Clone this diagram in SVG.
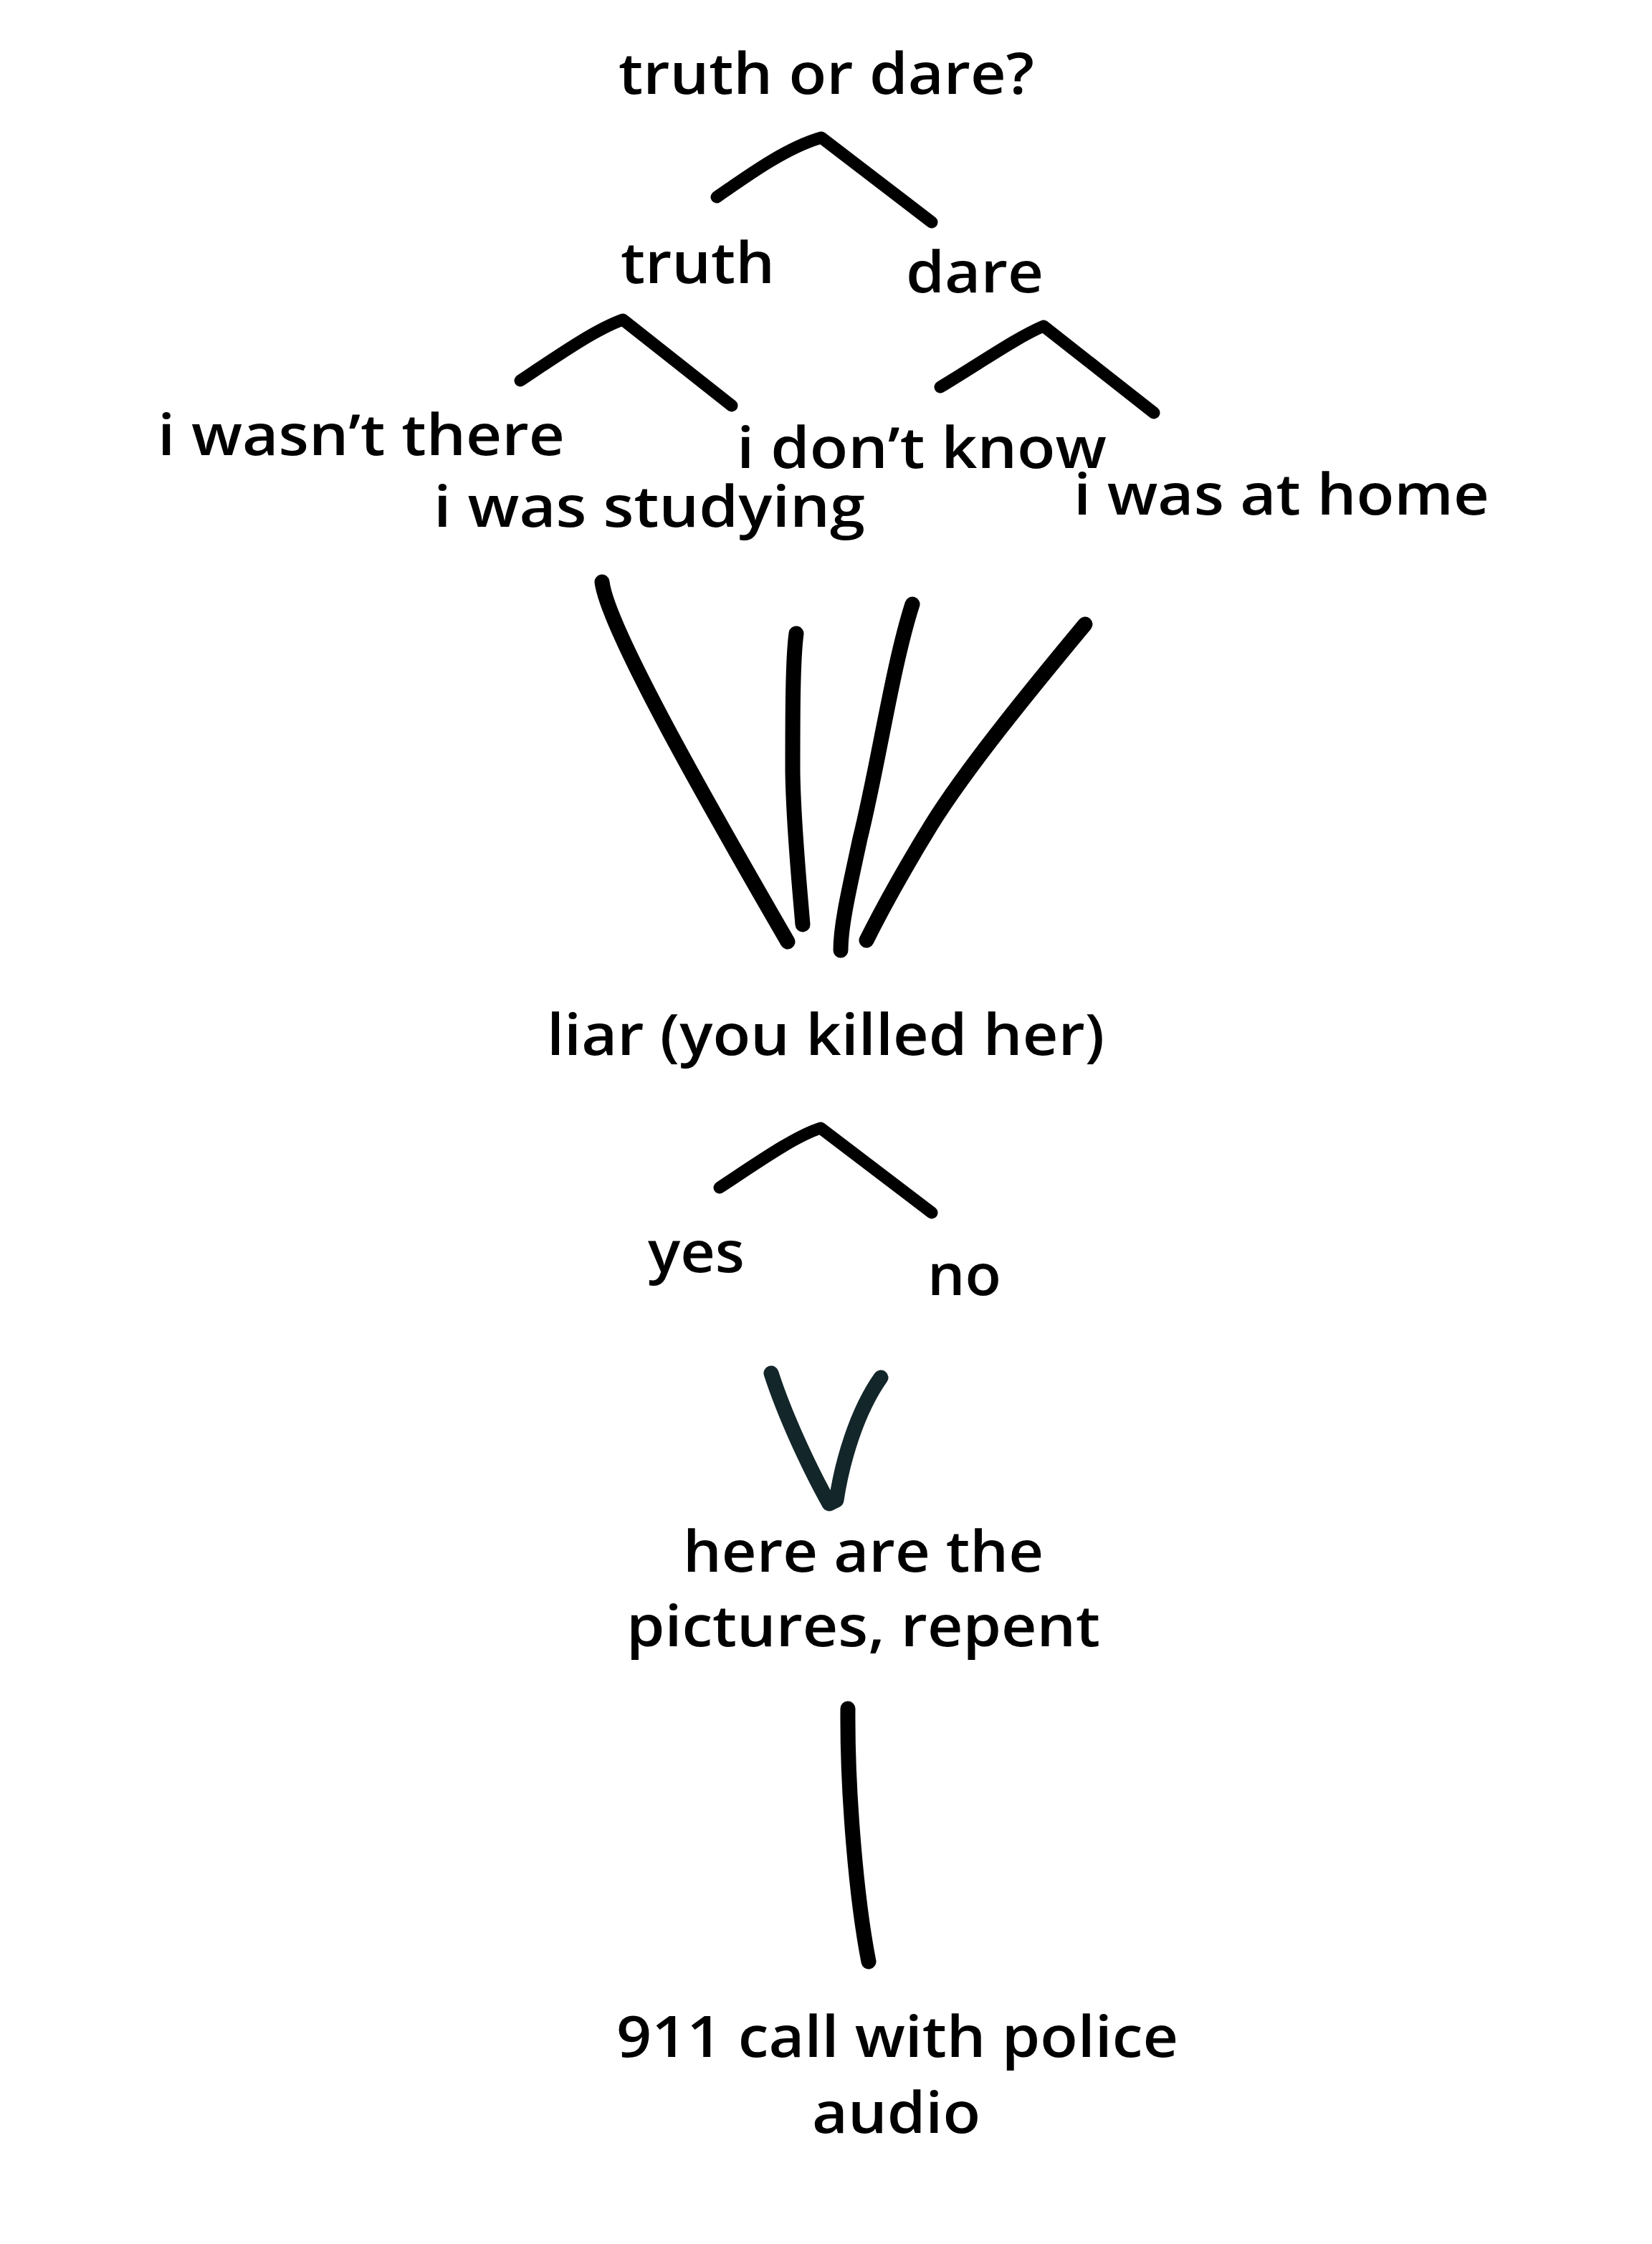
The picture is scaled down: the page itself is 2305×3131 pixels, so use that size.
<svg xmlns="http://www.w3.org/2000/svg" width="2305" height="3131" viewBox="0 0 2305 3131">
<style>
text{font-family:"Open Sans","Liberation Sans",sans-serif;font-weight:600;font-size:80px;fill:#000}
.c{fill:none;stroke:#000;stroke-width:17;stroke-linecap:round;stroke-linejoin:round}
.f{fill:none;stroke:#000;stroke-width:21;stroke-linecap:round;stroke-linejoin:round}
</style>
<rect width="2305" height="3131" fill="#fff"/>
<g id="connectors">
<path class="c" d="M1000,275 C1050,240 1100,205 1146,192 L1300,310"/>
<path class="c" d="M726,531 C780,495 830,460 869,446 L1021,566"/>
<path class="c" d="M1312,540 C1370,505 1420,470 1456,455 L1610,576"/>
<path class="f" d="M840,812 C848,880 1010,1160 1099,1314"/>
<path class="f" d="M1111,884 C1106,920 1106,1000 1106,1076 C1107,1150 1115,1230 1120,1290"/>
<path class="f" d="M1273,843 C1245,930 1225,1070 1200,1170 C1185,1240 1173,1290 1173,1326"/>
<path class="f" d="M1514,871 C1440,960 1350,1070 1300,1150 C1260,1215 1230,1270 1209,1312"/>
<path class="c" d="M1004,1657 C1060,1620 1110,1585 1145,1574 L1300,1692"/>
<path class="f" style="stroke:#13262a" d="M1076,1916 C1095,1975 1130,2050 1157,2098 L1167,2093 C1175,2040 1195,1970 1229,1922"/>
<path class="f" d="M1183,2384 C1182,2500 1195,2650 1212,2737"/>
</g>
<g id="n-truth-or-dare"><text x="863" y="131" textLength="580" lengthAdjust="spacingAndGlyphs">truth or dare?</text></g>
<g id="n-truth"><text x="866" y="395" textLength="215" lengthAdjust="spacingAndGlyphs">truth</text></g>
<g id="n-dare"><text x="1264" y="408" textLength="192" lengthAdjust="spacingAndGlyphs">dare</text></g>
<g id="n-wasnt-there"><text x="220" y="635" textLength="568" lengthAdjust="spacingAndGlyphs">i wasn’t there</text></g>
<g id="n-studying"><text x="605" y="735" textLength="602" lengthAdjust="spacingAndGlyphs">i was studying</text></g>
<g id="n-dont-know"><text x="1028" y="653" textLength="516" lengthAdjust="spacingAndGlyphs">i don’t know</text></g>
<g id="n-at-home"><text x="1498" y="718" textLength="580" lengthAdjust="spacingAndGlyphs">i was at home</text></g>
<g id="n-liar"><text x="763" y="1472" textLength="778" lengthAdjust="spacingAndGlyphs">liar (you killed her)</text></g>
<g id="n-yes"><text x="904" y="1775" textLength="135" lengthAdjust="spacingAndGlyphs">yes</text></g>
<g id="n-no"><text x="1294" y="1807" textLength="103" lengthAdjust="spacingAndGlyphs">no</text></g>
<g id="n-pictures"><text x="953" y="2193" textLength="503" lengthAdjust="spacingAndGlyphs">here are the</text><text x="874" y="2297" textLength="661" lengthAdjust="spacingAndGlyphs">pictures, repent</text></g>
<g id="n-911"><text x="860" y="2870" textLength="784" lengthAdjust="spacingAndGlyphs">911 call with police</text><text x="1133" y="2976" textLength="235" lengthAdjust="spacingAndGlyphs">audio</text></g>
</svg>
